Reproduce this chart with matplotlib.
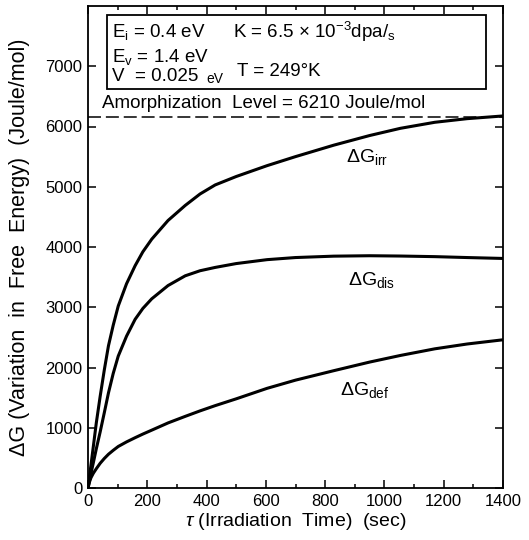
import matplotlib
matplotlib.use("Agg")
import matplotlib.pyplot as plt
from matplotlib.patches import Rectangle
from matplotlib.ticker import MultipleLocator

plt.rcParams['font.family'] = ['Liberation Sans', 'DejaVu Sans']
plt.rcParams['mathtext.fontset'] = 'custom'
plt.rcParams['mathtext.rm'] = 'Liberation Sans'
plt.rcParams['mathtext.it'] = 'Liberation Sans:italic'
plt.rcParams['mathtext.bf'] = 'Liberation Sans:bold'

# irradiation time (sec)
tau = [0, 5, 10, 18, 28, 41, 55, 69, 85, 102, 130, 159, 185, 215, 270,
       328, 378, 429, 500, 604, 700, 829, 950, 1054, 1170, 1279, 1400]

# free energy variations (Joule/mol)
g_irr = [0, 200, 380, 690, 1080, 1520, 1960, 2360, 2700, 3020, 3390, 3690,
         3920, 4130, 4440, 4690, 4880, 5030, 5170, 5350, 5500, 5690, 5850,
         5970, 6070, 6130, 6175]
g_dis = [0, 120, 240, 420, 650, 930, 1250, 1578, 1900, 2189, 2520, 2800,
         2980, 3140, 3360, 3522, 3606, 3661, 3725, 3790, 3825, 3848, 3855,
         3850, 3840, 3825, 3810]
g_def = [0, 100, 170, 245, 320, 410, 490, 560, 625, 689, 765, 835, 895,
         960, 1080, 1189, 1280, 1367, 1480, 1654, 1790, 1947, 2090, 2200,
         2310, 2390, 2460]

niveau_amorph = 6150

fig = plt.figure(figsize=(5.29, 5.40), dpi=100)
ax = fig.add_axes([88 / 529, 1 - 488 / 540, 415 / 529, 482 / 540])

ax.plot(tau, g_irr, color='black', lw=2.2, solid_capstyle='butt')
ax.plot(tau, g_dis, color='black', lw=2.2, solid_capstyle='butt')
ax.plot(tau, g_def, color='black', lw=2.2, solid_capstyle='butt')
ax.axhline(niveau_amorph, color='black', lw=1.1, dashes=(8.5, 3.2))

ax.set_xlim(0, 1400)
ax.set_ylim(0, 8000)
ax.set_xticks(range(0, 1401, 200))
ax.set_yticks(range(0, 7001, 1000))
ax.xaxis.set_minor_locator(MultipleLocator(100))

ax.tick_params(which='both', direction='in', top=True, right=True, width=1.1)
ax.tick_params(which='major', length=6, labelsize=12, pad=4)
ax.tick_params(which='minor', length=3)
for s in ax.spines.values():
    s.set_linewidth(1.3)

ax.set_xlabel(r'$\tau$ (Irradiation  Time)  (sec)', fontsize=14, labelpad=2)
ax.set_ylabel('ΔG (Variation  in  Free  Energy)  (Joule/mol)', fontsize=15.5, labelpad=11)

# curve labels
ax.text(940, 5500, r'ΔG$_{\mathrm{irr}}$', fontsize=14, ha='center', va='center')
ax.text(957, 3453, r'ΔG$_{\mathrm{dis}}$', fontsize=14, ha='center', va='center')
ax.text(934, 1627, r'ΔG$_{\mathrm{def}}$', fontsize=14, ha='center', va='center')

# parameters box
ax.add_patch(Rectangle((64, 6623), 1343 - 64, 7851 - 6623, facecolor='white',
                       edgecolor='black', lw=1.3, zorder=3))
ax.text(81, 7569, r'E$_{\mathrm{i}}$ = 0.4 eV', fontsize=13.5, va='center', zorder=4)
ax.text(489, 7569, r'K = 6.5 $\times$ 10$^{-3}$dpa/$_{\mathrm{s}}$', fontsize=13.5,
        va='center', zorder=4)
ax.text(81, 7154, r'E$_{\mathrm{v}}$ = 1.4 eV', fontsize=13.5, va='center', zorder=4)
ax.text(81, 6822, 'V  = 0.025', fontsize=13.5, va='center', zorder=4)
ax.text(400, 6790, 'eV', fontsize=10, va='center', zorder=4)
ax.text(503, 6905, 'T = 249°K', fontsize=13.5, va='center', zorder=4)
ax.text(47, 6390, 'Amorphization  Level = 6210 Joule/mol', fontsize=13.5, va='center')

fig.savefig('out.png', dpi=100)
